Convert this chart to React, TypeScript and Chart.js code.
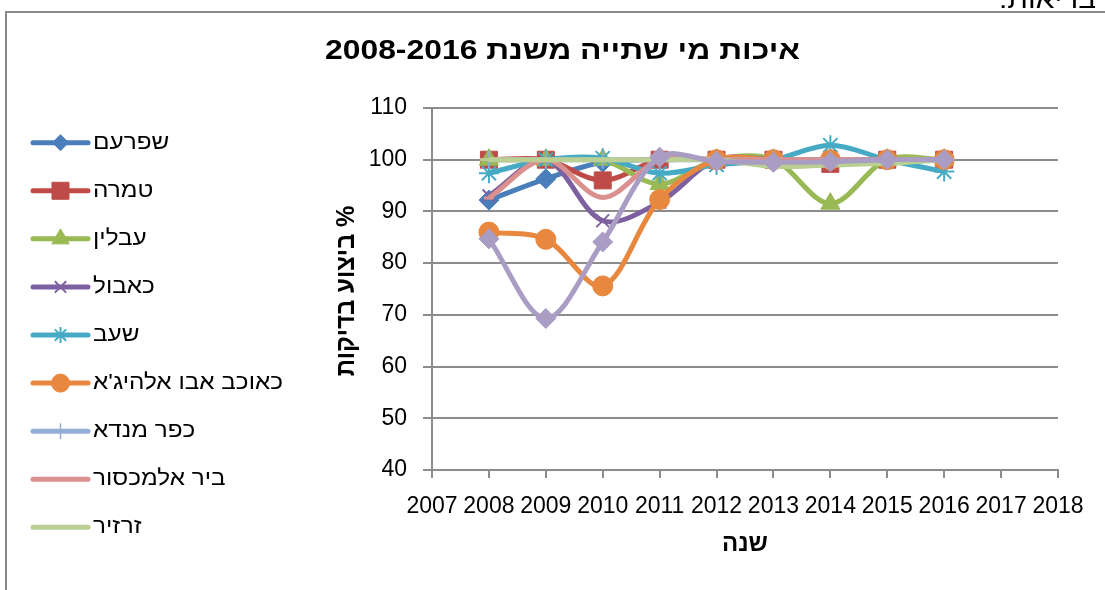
import React, { useEffect, useRef } from 'react';
import { Chart, registerables } from 'chart.js';
import { drawPoint } from 'chart.js/helpers';

Chart.register(...registerables);

// ---- data ----
const YEARS = [2008, 2009, 2010, 2011, 2012, 2013, 2014, 2015, 2016];
const X_MIN = 2007;
const X_MAX = 2018;
const Y_MIN = 40;
const Y_MAX = 110;
const Y_STEP = 10;

const TITLE = 'איכות מי שתייה משנת 2008-2016';
const X_TITLE = 'שנה';
const Y_TITLE = '% ביצוע בדיקות';
const TOP_NOTE = 'בריאות.';

const SERIES_NAMES = [
  'שפרעם',
  'טמרה',
  'עבלין',
  'כאבול',
  'שעב',
  "כאוכב אבו אלהיג'א",
  'כפר מנדא',
  'ביר אלמכסור',
  'זרזיר',
  'סדרה10',
];

const SHFARAM = [92.2, 96.3, 99.5, 100, 100, 100, 100, 100, 100];
const TAMRA = [100, 100, 96, 100, 100, 100, 99.2, 100, 100];
const AVLIN = [100, 100, 100, 95.3, 100, 100, 91.5, 100, 100];
const KABUL = [93, 100, 88.2, 91.8, 100, 100, 100, 100, 100];
const SHAAB = [97.4, 100, 100.3, 97.4, 99, 100, 102.8, 100, 97.7];
const KAWKAB = [86, 84.6, 75.6, 92.3, 100, 100, 100, 100, 100];
const KAFR_MANDA = [100, 100, 100, 100, 100, 100, 100, 100, 100];
const BIR_ALMAKSUR = [92.6, 100, 92.7, 100, 100, 100, 100, 100, 100];
const ZARZIR = [100, 100, 100, 100, 100, 98.7, 99, 99.3, 100];
const SERIES_10 = [84.7, 69.3, 84.1, 100.5, 99.7, 99.5, 99.6, 100, 100];

const SERIES_VALUES = [
  SHFARAM, TAMRA, AVLIN, KABUL, SHAAB, KAWKAB, KAFR_MANDA, BIR_ALMAKSUR, ZARZIR, SERIES_10,
];
const LEGEND_COUNT = 9;

// ---- styles ----
const COLORS = ['#4A7EBB', '#BE4B48', '#98B954', '#7D60A0', '#46AAC5', '#E8873E', '#93ADD5', '#D9908E', '#BACF92', '#A99DC3'];
const POINT_STYLES = ['rectRot', 'rect', 'triangle', 'crossRot', 'star', 'circle', 'cross', 'line', 'line', 'rectRot'];
const POINT_RADII = [10, 12, 11, 9, 10, 10, 9, 5, 9, 10];
const POINT_BORDER = [1, 1, 1, 2, 2, 1, 1.5, 3, 3, 1];
const LEGEND_RADII = [8, 12, 10, 8, 8, 9, 8, 0, 0];

const FONT = "'Liberation Sans', 'DejaVu Sans', Arial, sans-serif";
const GRID = '#8C8C8C';
const W = 1125;
const H = 590;

function fillStretched(ctx: CanvasRenderingContext2D, text: string, x: number, y: number, sx: number, align: CanvasTextAlign) {
  ctx.save();
  ctx.translate(x, y);
  ctx.scale(sx, 1);
  ctx.textAlign = align;
  ctx.fillText(text, 0, 0);
  ctx.restore();
}

const framePlugin = {
  id: 'frame',
  beforeDraw(chart: any) {
    const ctx: CanvasRenderingContext2D = chart.ctx;
    ctx.save();
    ctx.fillStyle = '#fff';
    ctx.fillRect(0, 0, W, H);
    ctx.strokeStyle = '#8A8A8A';
    ctx.lineWidth = 2;
    ctx.beginPath();
    ctx.moveTo(6, H);
    ctx.lineTo(6, 12);
    ctx.lineTo(W, 12);
    ctx.stroke();
    ctx.fillStyle = '#000';
    ctx.font = `25px ${FONT}`;
    (ctx as any).direction = 'rtl';
    ctx.textBaseline = 'alphabetic';
    const nw = ctx.measureText(TOP_NOTE).width;
    fillStretched(ctx, TOP_NOTE, 1096, 7.5, 97 / nw, 'right');
    ctx.restore();
  },
  afterDraw(chart: any) {
    const ctx: CanvasRenderingContext2D = chart.ctx;
    // title
    ctx.save();
    ctx.fillStyle = '#000';
    ctx.font = `bold 27px ${FONT}`;
    (ctx as any).direction = 'rtl';
    ctx.textBaseline = 'middle';
    const tw = ctx.measureText(TITLE).width;
    fillStretched(ctx, TITLE, 562.5, 52, 475 / tw, 'center');
    ctx.restore();

    // y axis title
    ctx.save();
    ctx.translate(347, 291);
    ctx.rotate(-Math.PI / 2);
    ctx.fillStyle = '#000';
    ctx.font = `bold 24px ${FONT}`;
    (ctx as any).direction = 'rtl';
    ctx.textAlign = 'center';
    ctx.textBaseline = 'middle';
    ctx.scale(1, 1.1);
    ctx.fillText(Y_TITLE, 0, 0);
    ctx.restore();

    // legend
    ctx.save();
    ctx.font = `22px ${FONT}`;
    const lw = ctx.measureText(SERIES_NAMES[5]).width;
    const lsx = 190 / lw;
    for (let i = 0; i < LEGEND_COUNT; i++) {
      const y = 142.7 + i * 48.08;
      const c = COLORS[i];
      ctx.strokeStyle = c;
      ctx.fillStyle = c;
      ctx.lineWidth = 5;
      ctx.lineCap = 'round';
      ctx.beginPath();
      ctx.moveTo(33, y);
      ctx.lineTo(88, y);
      ctx.stroke();
      if (LEGEND_RADII[i] > 0) {
        ctx.lineWidth = POINT_BORDER[i];
        ctx.lineCap = 'butt';
        drawPoint(ctx, { pointStyle: POINT_STYLES[i], radius: LEGEND_RADII[i], rotation: 0, borderWidth: POINT_BORDER[i] } as any, 60.5, y);
      }
      ctx.fillStyle = '#000';
      ctx.font = `22px ${FONT}`;
      (ctx as any).direction = 'rtl';
      ctx.textBaseline = 'middle';
      fillStretched(ctx, SERIES_NAMES[i], 93, y, lsx, 'left');
    }
    ctx.restore();
  },
};

export default function App() {
  const ref = useRef<HTMLCanvasElement | null>(null);
  useEffect(() => {
    if (!ref.current) return;
    const datasets = SERIES_VALUES.map((vals, i) => ({
      label: SERIES_NAMES[i],
      data: YEARS.map((x, j) => ({ x, y: vals[j] })),
      borderColor: COLORS[i],
      backgroundColor: COLORS[i],
      borderWidth: 5,
      tension: 0.33,
      pointStyle: POINT_STYLES[i],
      pointRadius: POINT_RADII[i],
      pointBorderWidth: POINT_BORDER[i],
      pointBackgroundColor: COLORS[i],
      pointBorderColor: COLORS[i],
      order: SERIES_VALUES.length - 1 - i,
    }));
    const chart = new Chart(ref.current, {
      type: 'line',
      data: { datasets },
      options: {
        animation: false,
        responsive: false,
        events: [],
        layout: { padding: { left: 312, right: 67, top: 108, bottom: 20 } },
        plugins: {
          legend: { display: false },
          tooltip: { enabled: false },
          title: { display: false },
        },
        scales: {
          x: {
            type: 'linear',
            min: X_MIN,
            max: X_MAX,
            ticks: {
              stepSize: 1,
              autoSkip: false,
              maxRotation: 0,
              padding: 15,
              color: '#000',
              font: { family: FONT, size: 23 },
              callback: (v: any) => String(v),
            },
            grid: { drawOnChartArea: false, drawTicks: true, tickLength: 8, color: GRID, lineWidth: 2 },
            border: { display: true, color: GRID, width: 2 },
            title: {
              display: true,
              text: X_TITLE,
              color: '#000',
              font: { family: FONT, size: 24, weight: 'bold' },
              padding: { top: 0, bottom: 11 },
            },
            afterFit: (s: any) => {
              s.height = 100;
              s.paddingLeft = 0;
              s.paddingRight = 0;
            },
          },
          y: {
            min: Y_MIN,
            max: Y_MAX,
            ticks: {
              stepSize: Y_STEP,
              padding: 16,
              color: '#000',
              font: { family: FONT, size: 23 },
            },
            grid: { color: GRID, lineWidth: 2, tickLength: 9 },
            border: { display: true, color: GRID, width: 2 },
            afterFit: (s: any) => {
              s.width = 120;
              s.paddingTop = 0;
              s.paddingBottom = 0;
            },
          },
        },
      } as any,
      plugins: [framePlugin],
    });
    return () => chart.destroy();
  }, []);
  return (
    <div style={{ position: 'fixed', left: 0, top: 0, width: 1105, height: 590, overflow: 'hidden', background: '#fff' }}>
      <canvas ref={ref} width={W} height={H} style={{ display: 'block', width: W, height: H }} />
    </div>
  );
}
